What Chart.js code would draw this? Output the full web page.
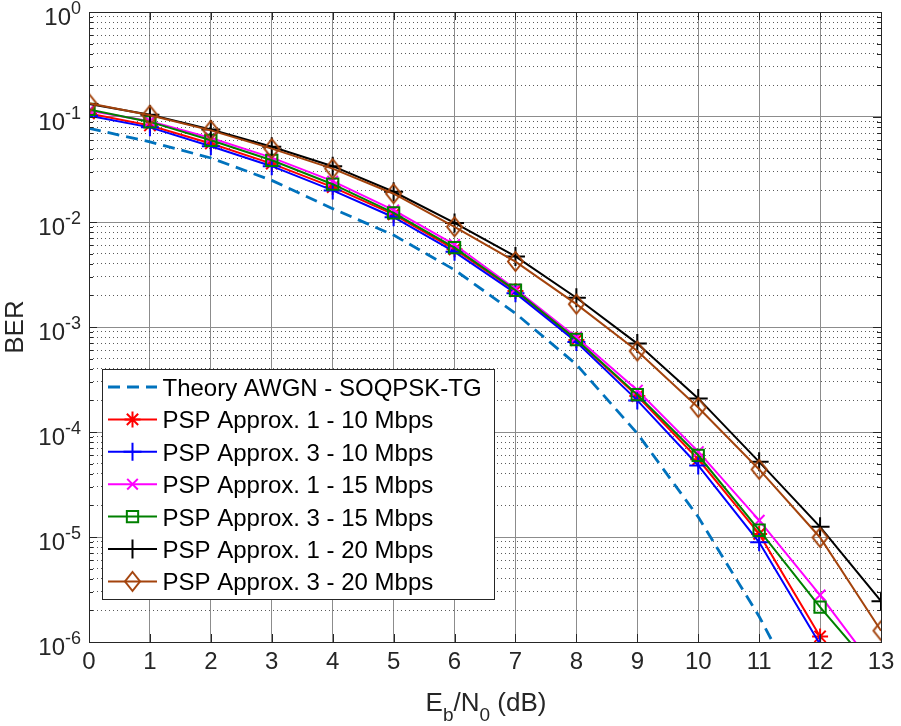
<!DOCTYPE html>
<html>
<head>
<meta charset="utf-8">
<script src="https://cdn.jsdelivr.net/npm/chart.js@4.4.0/dist/chart.umd.min.js"></script>
<style>
  html, body { margin: 0; padding: 0; background: #fff; }
</style>
</head>
<body>
<canvas id="berChart" width="901" height="726"></canvas>
<script>
// DATA
const ebn0 = [0, 1, 2, 3, 4, 5, 6, 7, 8, 9, 10, 11, 12, 13];
const theoryAwgn = [0.078, 0.058, 0.0407, 0.0249, 0.0134, 0.0075, 0.0035, 0.00135, 4.4e-4, 9.7e-5, 1.55e-5, 1.75e-6, 1.4e-7, null];
const psp1_10 = [0.108, 0.083, 0.056, 0.036, 0.0215, 0.0118, 0.0055, 0.0022, 7.5e-4, 2.2e-4, 5.5e-5, 1.07e-5, 1.13e-6, null];
const psp3_10 = [0.103, 0.0797, 0.0526, 0.034, 0.020, 0.0111, 0.0052, 0.0021, 7.2e-4, 2.0e-4, 4.8e-5, 8.9e-6, 9.5e-7, null];
const psp1_15 = [0.115, 0.091, 0.063, 0.041, 0.0245, 0.013, 0.0061, 0.0023, 8.0e-4, 2.5e-4, 6.5e-5, 1.44e-5, 2.8e-6, 4.7e-7];
const psp3_15 = [0.118, 0.0898, 0.060, 0.0387, 0.0229, 0.0122, 0.0057, 0.00224, 7.6e-4, 2.27e-4, 6.0e-5, 1.16e-5, 2.15e-6, 4.5e-7];
const psp1_20 = [0.133, 0.105, 0.076, 0.052, 0.034, 0.0194, 0.0098, 0.0047, 0.0019, 6.95e-4, 2.09e-4, 5.2e-5, 1.25e-5, 2.45e-6];
const psp3_20 = [0.135, 0.104, 0.0746, 0.050, 0.0322, 0.0186, 0.009, 0.0042, 0.00165, 5.9e-4, 1.71e-4, 4.4e-5, 9.9e-6, 1.28e-6];

const seriesLabels = [
    'Theory AWGN - SOQPSK-TG',
    'PSP Approx. 1 - 10 Mbps',
    'PSP Approx. 3 - 10 Mbps',
    'PSP Approx. 1 - 15 Mbps',
    'PSP Approx. 3 - 15 Mbps',
    'PSP Approx. 1 - 20 Mbps',
    'PSP Approx. 3 - 20 Mbps'
];
const xTicks = [0, 1, 2, 3, 4, 5, 6, 7, 8, 9, 10, 11, 12, 13];
const yDecades = [0, -1, -2, -3, -4, -5, -6];

const FONT = "'Liberation Sans', Arial, Helvetica, sans-serif";
const AXIS_COLOR = '#262626';

// y ticks: decades (major) + 2..9 (minor)
const yTicks = [];
yDecades.forEach(e => {
    yTicks.push({ value: Math.pow(10, e), major: true });
    if (e > -6) {
        for (let m = 2; m <= 9; m++) yTicks.push({ value: m * Math.pow(10, e - 1), major: false });
    }
});

function pts(arr) {
    return ebn0.map((x, i) => ({ x: x, y: arr[i] }));
}

// MATLAB-like diamond (taller than wide)
function diamondMarker(color) {
    const c = document.createElement('canvas');
    c.width = 19; c.height = 23;
    const g = c.getContext('2d');
    g.strokeStyle = color;
    g.lineWidth = 2;
    g.beginPath();
    g.moveTo(9.5, 2); g.lineTo(17, 11.5); g.lineTo(9.5, 21); g.lineTo(2, 11.5);
    g.closePath();
    g.stroke();
    return c;
}

function series(i, arr, color, style, radius, extra) {
    return Object.assign({
        label: seriesLabels[i],
        data: pts(arr),
        borderColor: color,
        backgroundColor: 'rgba(0,0,0,0)',
        borderWidth: 2,
        pointStyle: style,
        pointRadius: radius,
        pointBorderWidth: 2,
        pointBorderColor: color,
        pointBackgroundColor: 'rgba(0,0,0,0)',
        tension: 0,
        order: -i
    }, extra || {});
}

const brown = '#a3430c';
const datasets = [
    series(0, theoryAwgn, '#0072bd', false, 0, { borderWidth: 2.8, borderDash: [12, 7] }),
    series(1, psp1_10, '#ff0000', 'star', 8),
    series(2, psp3_10, '#0000ff', 'cross', 9),
    series(3, psp1_15, '#ff00ff', 'crossRot', 7.5),
    series(4, psp3_15, '#008000', 'rect', 8),
    series(5, psp1_20, '#000000', 'cross', 9.5),
    series(6, psp3_20, brown, diamondMarker(brown), 9)
];

// frame, inner ticks, y labels, x title, legend
const decor = {
    id: 'decor',
    afterDatasetsDraw(chart) {
        const { ctx, chartArea: a, scales } = chart;
        ctx.save();
        ctx.strokeStyle = AXIS_COLOR;
        ctx.lineWidth = 1;
        ctx.setLineDash([]);
        ctx.beginPath();
        xTicks.forEach(v => {
            const px = Math.round(scales.x.getPixelForValue(v)) + 0.5;
            ctx.moveTo(px, a.bottom); ctx.lineTo(px, a.bottom - 8);
            ctx.moveTo(px, a.top); ctx.lineTo(px, a.top + 8);
        });
        yTicks.forEach(t => {
            const py = Math.round(scales.y.getPixelForValue(t.value)) + 0.5;
            const len = t.major ? 8 : 4;
            ctx.moveTo(a.left, py); ctx.lineTo(a.left + len, py);
            ctx.moveTo(a.right, py); ctx.lineTo(a.right - len, py);
        });
        ctx.stroke();
        ctx.strokeRect(Math.round(a.left) + 0.5, Math.round(a.top) + 0.5,
            Math.round(a.right - a.left), Math.round(a.bottom - a.top));
        ctx.restore();
    },
    afterDraw(chart) {
        const { ctx, chartArea: a, scales } = chart;
        ctx.save();
        ctx.fillStyle = AXIS_COLOR;
        ctx.textBaseline = 'alphabetic';

        // y tick labels 10^n
        yDecades.forEach(e => {
            const py = scales.y.getPixelForValue(Math.pow(10, e));
            const exp = String(e);
            ctx.font = '24px ' + FONT;
            const wBase = ctx.measureText('10').width;
            ctx.font = '18px ' + FONT;
            const wExp = ctx.measureText(exp).width;
            const right = 81;
            ctx.textAlign = 'left';
            ctx.font = '24px ' + FONT;
            ctx.fillText('10', right - wExp - wBase, py + 13);
            ctx.font = '18px ' + FONT;
            ctx.fillText(exp, right - wExp, py + 2);
        });

        // x axis title with subscripts
        const parts = [['E', 26, 0], ['b', 19, 10], ['/N', 26, 0], ['0', 19, 10], [' (dB)', 26, 0]];
        let total = 0;
        parts.forEach(p => { ctx.font = p[1] + 'px ' + FONT; p.push(ctx.measureText(p[0]).width); total += p[3]; });
        let x = (a.left + a.right) / 2 - total / 2 + 1;
        const base = 711;
        ctx.textAlign = 'left';
        parts.forEach(p => {
            ctx.font = p[1] + 'px ' + FONT;
            ctx.fillText(p[0], x, base + p[2]);
            x += p[3];
        });

        // legend
        const box = { x: 102, y: 369, w: 392, h: 230 };
        ctx.fillStyle = '#ffffff';
        ctx.fillRect(box.x, box.y, box.w, box.h);
        ctx.strokeStyle = AXIS_COLOR;
        ctx.lineWidth = 1;
        ctx.setLineDash([]);
        ctx.strokeRect(box.x + 0.5, box.y + 0.5, box.w, box.h);
        chart.data.datasets.forEach((ds, i) => {
            const baseY = 396 + i * 32.4;
            const ly = baseY - 9;
            ctx.save();
            ctx.strokeStyle = ds.borderColor;
            ctx.lineWidth = ds.borderWidth;
            ctx.setLineDash(ds.borderDash || []);
            ctx.beginPath();
            ctx.moveTo(108, ly); ctx.lineTo(157, ly);
            ctx.stroke();
            ctx.setLineDash([]);
            if (ds.pointStyle) {
                ctx.lineWidth = ds.pointBorderWidth;
                ctx.strokeStyle = ds.pointBorderColor;
                ctx.fillStyle = 'rgba(0,0,0,0)';
                Chart.helpers.drawPoint(ctx, { pointStyle: ds.pointStyle, radius: ds.pointRadius, borderWidth: ds.pointBorderWidth, rotation: 0 }, 132.5, ly);
            }
            ctx.restore();
            ctx.fillStyle = '#000000';
            ctx.font = '24px ' + FONT;
            ctx.textAlign = 'left';
            ctx.fillText(ds.label, 162.5, baseY);
        });
        ctx.restore();
    }
};

Chart.defaults.font.family = FONT;

new Chart(document.getElementById('berChart'), {
    type: 'line',
    data: { datasets: datasets },
    options: {
        responsive: false,
        animation: false,
        devicePixelRatio: 1,
        layout: { padding: { top: 12, right: 20, left: 0, bottom: 0 } },
        plugins: { legend: { display: false }, tooltip: { enabled: false } },
        scales: {
            x: {
                type: 'linear',
                min: 0,
                max: 13,
                afterBuildTicks: (s) => { s.ticks = xTicks.map(v => ({ value: v })); },
                afterFit: (s) => { s.height = 84; },
                ticks: { font: { size: 24 }, color: AXIS_COLOR, padding: 6, maxRotation: 0, autoSkip: false },
                grid: { color: '#8c8c8c', lineWidth: 1, drawTicks: false },
                border: { display: false }
            },
            y: {
                type: 'logarithmic',
                min: 1e-6,
                max: 1,
                afterBuildTicks: (s) => { s.ticks = yTicks.map(t => ({ value: t.value, major: t.major })); },
                afterFit: (s) => { s.width = 89; },
                ticks: { display: false },
                title: { display: true, text: 'BER', font: { size: 26 }, color: AXIS_COLOR, padding: 0 },
                grid: {
                    color: (c) => (c.tick && c.tick.major) ? '#8c8c8c' : '#5a5a5a',
                    lineWidth: 1,
                    drawTicks: false
                },
                border: {
                    display: false,
                    dash: (c) => (c.tick && c.tick.major) ? [] : [1, 3]
                }
            }
        }
    },
    plugins: [decor]
});
</script>
</body>
</html>
